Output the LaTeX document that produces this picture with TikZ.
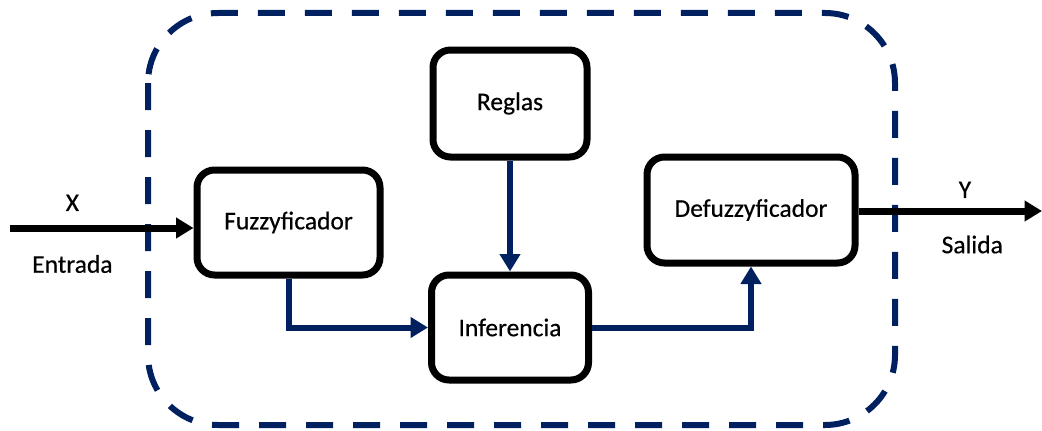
\documentclass[tikz,border=0pt]{standalone}
\usepackage{fontspec}
\setmainfont[RawFeature={embolden=0.5}]{Carlito}
\usepackage{tikz}
\usetikzlibrary{arrows.meta, positioning, calc}

\definecolor{navy}{HTML}{002060}

\begin{document}
\begin{tikzpicture}[
  font=\fontsize{14.5}{17}\selectfont,
  bloque/.style={rectangle, draw=black, rounded corners=3.5mm, line width=1.4mm,
    fill=white, align=center, inner sep=0pt},
  flecha/.style={-{Triangle[length=3.5mm, width=4mm]}, line width=1.4mm, black},
  enlace/.style={-{Triangle[length=3.5mm, width=4mm]}, line width=1.2mm, navy},
  lbl/.style={inner sep=2pt}
]
\useasboundingbox (0,0) rectangle (20.84,-8.6);
\draw[navy, line width=1.2mm, dash pattern=on 5.4mm off 4mm, rounded corners=14mm]
  (2.96,-0.26) rectangle (17.9,-8.5);
\node[bloque, minimum width=3.08cm, minimum height=2.14cm] (reglas) at (10.2,-2.07) {Reglas};
\node[bloque, minimum width=3.66cm, minimum height=2.1cm] (fuzz) at (5.77,-4.45) {Fuzzyficador};
\node[bloque, minimum width=3.14cm, minimum height=2.1cm] (inf) at (10.2,-6.55) {Inferencia};
\node[bloque, minimum width=4.16cm, minimum height=2.12cm] (defuzz) at (15.02,-4.2) {Defuzzyficador};
\coordinate (entrada) at (0.2,-4.56);
\coordinate (salida) at (20.84,-4.22);
\draw[flecha] (entrada) -- (entrada -| fuzz.west)
  node[lbl, pos=0.34, above=2mm]{X} node[lbl, pos=0.34, below=4mm]{Entrada};
\draw[flecha] (defuzz.east |- salida) -- (salida)
  node[lbl, pos=0.58, above=1.2mm]{Y} node[lbl, pos=0.62, below=3.5mm]{Salida};
\draw[enlace] (reglas) -- (inf);
\draw[enlace] (fuzz.south) |- (inf.west);
\draw[enlace] (inf.east) -| (defuzz.south);
\end{tikzpicture}
\end{document}
